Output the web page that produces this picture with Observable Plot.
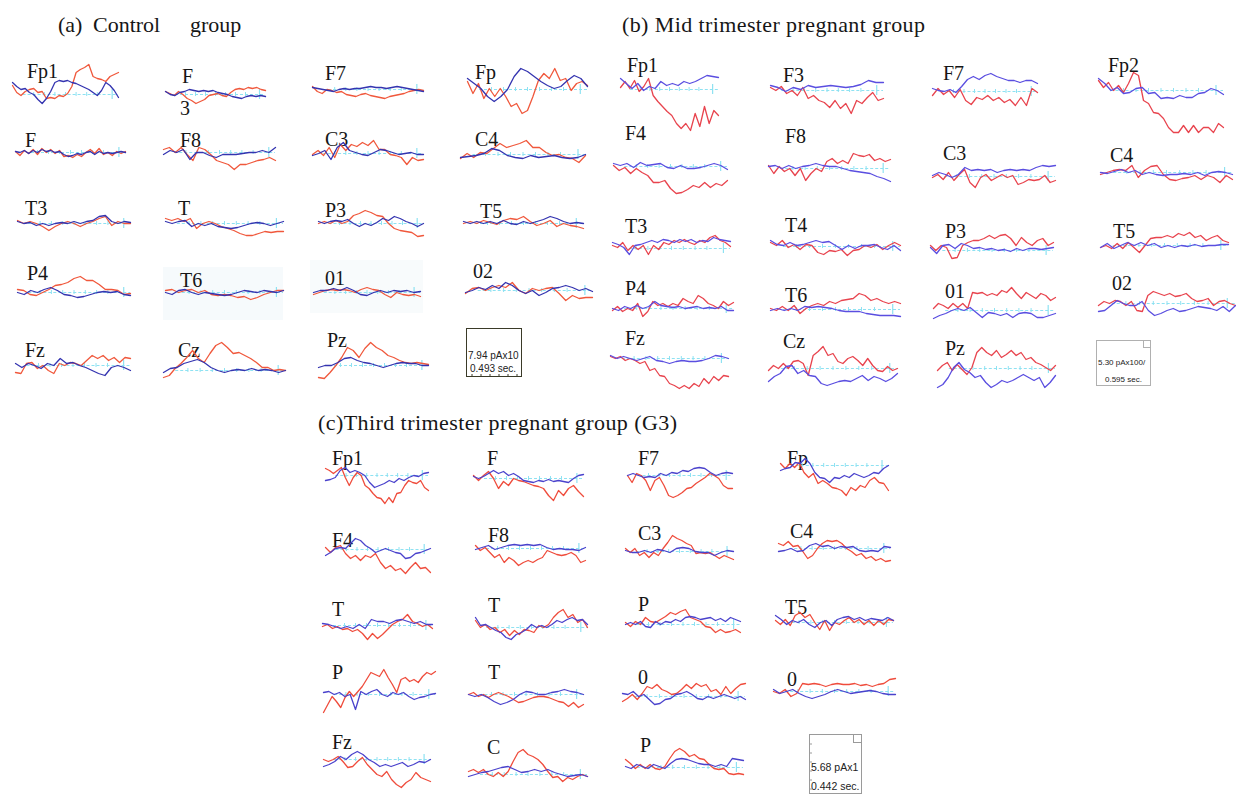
<!DOCTYPE html>
<html><head><meta charset="utf-8">
<script src="https://cdn.jsdelivr.net/npm/d3@7"></script>
<script src="https://cdn.jsdelivr.net/npm/@observablehq/plot@0.6"></script>
<style>
body{margin:0;background:#fff;}
#fig{position:relative;width:1236px;height:794px;overflow:hidden;}
#fig svg.plot, #fig > svg{position:absolute;}
</style></head>
<body><div id="fig"></div>
<script>
// ---------- amplitudes (up = positive) ----------
// (a) Control group
const a_Fp1_r=[9,2,-1,3,5,6,2,3,-4,-3,-4,-1,-2,1,8,22,25,27,30,18,16,15,13,18,20,22];
const a_Fp1_b=[12,8,5,6,2,0,-5,-9,-4,3,12,14,13,14,12,11,9,7,5,2,-1,4,12,9,4,-3];
const a_F3_r=[3,1,-1,3,0,-4,-6,-9,-7,-5,-1,0,1,-1,-2,2,5,6,5,7,6,7,5,4];
const a_F3_b=[3,0,-1,2,3,5,4,3,4,3,4,2,1,0,-2,-3,-4,-2,-1,-2,-1,-2];
const a_F7_r=[3,-2,-4,0,-1,-3,-2,-5,-6,-7,-5,-4,-6,-7,-8,-9,-7,-6,-5,-4,-2,-1,0,-1];
const a_F7_b=[2,1,0,-1,-2,0,1,0,1,1,2,3,2,2,1,2,3,2,1,0,-1,-2];
const a_Fp_r=[8,-4,6,-9,1,-7,1,-7,-17,-14,-24,-21,-7,9,16,11,21,9,11,-1,6,8,4];
const a_Fp_b=[11,6,1,-7,-12,-7,0,13,21,18,13,8,4,1,3,9,14,11,3];
const a_F_r=[1,-3,2,-1,3,-2,4,0,3,-1,2,-4,-3,-5,-2,-4,0,3,-1,4,-2,0,-3,1,-1,1];
const a_F_b=[1,0,2,-1,2,0,3,1,2,0,1,-2,-4,-3,-1,-2,0,1,-2,1,-1,0,-1,0,1,0];
const a_F8_r=[3,5,0,5,-2,-8,5,3,-2,-8,-10,-12,-17,-12,-12,-10,-8,-7,-5,-8];
const a_F8_b=[-2,2,0,3,-7,0,0,-3,-5,-2,-2,-2,-1,0,0,2,0,5];
const a_C3_r=[-1,3,-2,6,-4,9,3,9,7,11,8,13,4,4,-1,-2,-4,-11,-4,-7,-6];
const a_C3_b=[-2,0,3,-6,6,11,3,1,-1,-2,1,4,3,1,-1,0,1,-1,-1];
const a_C4_r=[-4,1,-3,2,1,6,11,7,9,11,14,7,7,2,-1,0,-3,-4,-8,-1];
const a_C4_b=[-3,-2,-1,1,6,4,-1,-3,-4,-1,-3,-2,-1,-3,-4,-3,0];
const a_T3_r=[3,0,2,0,-3,-7,-3,0,2,0,-3,0,2,5,7,-2,2,0,0];
const a_T3_b=[2,0,1,-2,0,-2,0,1,0,2,0,2,3,7,8,2,0,2,1];
const a_T_r=[5,3,5,2,5,-5,0,2,0,-3,-5,-7,-10,-12,-12,-10,-8,-9,-8,-8];
const a_T_b=[2,0,2,3,-3,0,-2,0,-3,-4,-5,-4,-2,0,1,0,-2,0,2];
const a_P3_r=[0,2,0,3,0,2,8,10,13,11,8,7,0,-5,-7,-8,-9,-13,-12];
const a_P3_b=[2,0,2,3,2,4,0,-3,0,-2,1,5,3,7,5,2,0,-3,0];
const a_T5_r=[0,2,0,3,1,-1,3,5,4,7,2,-2,0,3,-3,0,-2,-3,-5];
const a_T5_b=[2,0,2,0,2,0,3,0,-1,2,0,2,4,7,5,2,0,1,0];
const a_P4_r=[3,2,-2,-3,0,3,7,8,10,14,16,12,12,8,3,3,2,-2,-1];
const a_P4_b=[0,-2,2,0,3,5,2,-2,-3,-5,-4,-2,0,1,0,1,-2,-3];
const a_T6_r=[2,3,0,2,3,0,2,-2,-3,-2,-3,-5,-4,-7,-5,-2,0,2,2];
const a_T6_b=[0,-2,2,3,0,-2,0,-1,-2,-3,-2,0,2,1,0,2,1,0,2];
const a_O1_r=[-2,0,2,3,2,3,2,0,3,5,3,2,-2,-5,0,-2,-3,-2,-4];
const a_O1_b=[0,2,2,4,2,5,2,-2,-3,0,2,0,2,1,2,0,1];
const a_O2_r=[-3,2,3,0,3,5,3,8,0,-3,2,0,2,3,-3,-10,-5,-8,-7,-7];
const a_O2_b=[-2,0,3,1,5,2,8,5,0,-3,0,-5,-2,2,3,5,3,0,2,-1];
const a_Fz_r=[-7,-8,2,3,-3,0,-5,-8,2,0,3,2,0,5,10,7,10,5,8,3,8,7];
const a_Fz_b=[2,-2,2,0,-3,2,0,7,2,3,0,-2,-5,-8,-10,-2,0,-2,-5];
const a_Cz_r=[-7,-5,2,7,13,20,12,8,17,25,28,23,17,18,15,12,8,3,3,0,1,0];
const a_Cz_b=[-2,2,3,7,9,11,8,3,0,-2,0,1,0,2,0,1,0,-2,0];
const a_Pz_r=[-12,-13,-7,0,8,18,15,8,17,23,18,15,10,8,5,3,2,3,2,1];
const a_Pz_b=[-2,0,0,3,7,8,5,3,2,0,-2,0,2,3,2,2,0,0];
// (b) Mid trimester pregnant group
const b_Fp1_r=[2,8,1,9,-2,3,11,-6,-12,-17,-22,-26,-34,-39,-34,-41,-24,-37,-17,-34,-21,-26];
const b_Fp1_b=[11,6,1,6,-1,3,1,8,4,6,4,8,6,8,11,14,13,12];
const b_F3_r=[3,0,4,-3,0,-5,3,-8,-5,-10,-12,-17,-10,-18,-13,-23,-10,-13,-7,-2,-10,-8];
const b_F3_b=[5,3,-1,3,1,5,3,4,5,4,3,4,6,10,8,8];
const b_F7_r=[-4,3,-3,1,-6,2,-9,-13,-6,-8,-4,-9,-6,-11,-8,-14,-6,-14,3,-1];
const b_F7_b=[3,1,0,2,-1,5,12,15,12,16,18,15,13,11,11,9,11,11,8];
const b_Fp2_r=[10,3,8,0,5,-2,7,18,15,-10,-13,-22,-23,-28,-37,-42,-42,-35,-42,-35,-42,-37,-37,-42,-33,-37];
const b_Fp2_b=[12,7,0,3,-3,-2,2,3,-3,-2,-8,-7,-8,-5,-7,-7,-3,-2,2,0,-4];
const b_F4_r=[1,-4,-1,-7,-2,-6,-9,-16,-16,-14,-22,-27,-26,-23,-19,-21,-16,-21,-17,-19,-14];
const b_F4_b=[3,1,3,-1,4,1,2,3,-1,-2,1,-2,-2,-1,1,3,1,-3];
const b_F8_r=[3,-5,2,-3,0,-7,0,-12,-5,0,-3,7,10,5,8,5,15,13,12,14,8,10,7,9];
const b_F8_b=[2,3,0,3,0,2,3,5,3,2,2,0,-2,-3,-4,-5,-8,-10,-13];
const b_C3_r=[-1,2,-3,4,-4,2,7,-6,-11,-1,2,-4,-1,2,-1,1,-8,-6,-3,-4,-3,1,-6,-4];
const b_C3_b=[1,4,2,-1,2,9,6,7,6,7,4,6,7,6,7,6,9,11,10,11];
const b_C4_r=[-2,0,2,3,2,7,-5,2,6,7,-2,-7,-8,-6,-5,-3,-7,-3,-5,-10,-3,-7];
const b_C4_b=[0,-1,1,3,0,2,-2,0,-2,-3,-2,-2,-1,-2,0,-3,0,1,0,-2];
const b_T3_r=[3,1,6,-2,3,-1,3,-6,3,-1,6,4,8,6,9,6,4,8,6,11,13,8,6,2];
const b_T3_b=[6,4,1,-6,3,4,6,8,6,9,8,6,9,7,9,6,8,7,11,9,8,7];
const b_T4_r=[4,1,6,-1,2,-3,2,1,-6,-8,-4,-5,-3,-9,-4,-3,1,-1,2,-3,1,4,1];
const b_T4_b=[6,2,1,4,1,2,4,6,4,5,1,-3,1,-2,1,1,2,-1,-3,1,-4];
const b_P3_r=[5,0,5,3,-8,-7,5,8,10,10,12,15,12,15,16,12,5,13,8,5,10,12,5,8];
const b_P3_b=[3,-3,5,6,2,7,5,2,3,1,2,0,1,-1,2,0,2,2,1,2,3];
const b_T5_r=[-2,0,-3,2,-3,3,-2,-7,0,7,8,8,10,8,12,10,13,8,10,5,8,10,5,3];
const b_T5_b=[-2,2,-3,0,3,0,3,0,2,-2,0,-2,0,-1,1,-1,0,0,1,1];
const b_P4_r=[-2,2,-3,0,-2,5,-8,-3,7,3,5,2,5,3,10,7,5,13,10,5,3,0,7,3,6];
const b_P4_b=[0,-2,2,0,3,0,2,7,3,2,1,2,0,1,2,0,1,0,2,-2,-2];
const b_T6_r=[1,-1,3,-1,4,-4,1,4,6,4,8,6,9,10,11,16,14,9,11,8,6,8,6];
const b_T6_b=[-1,1,-1,1,-1,3,2,3,2,1,-1,-2,-2,-2,-4,-5,-6,-6,-6,-7];
const b_O1_r=[2,7,5,2,7,3,7,2,18,17,18,15,17,15,20,18,23,17,12,18,15,12,17,15,10,13];
const b_O1_b=[-8,-5,-3,0,2,0,3,-2,-7,-2,-3,-5,-3,-7,-3,-2,-3,-7,-7,-5,-3];
const b_O2_r=[-2,2,0,3,2,-2,2,-7,-8,8,12,10,8,10,7,8,10,5,2,3,5,-2,2,3,0,-2];
const b_O2_b=[-8,-7,-2,3,0,-2,-2,2,-7,-12,-10,-7,-5,-8,-7,-5,-3,-4,-5,-7,-3,-8,-2];
const b_Fz_r=[2,0,2,-2,0,-2,-5,-3,-12,-10,-17,-18,-25,-27,-30,-27,-30,-25,-28,-20,-25,-18,-22,-17,-18];
const b_Fz_b=[3,0,2,0,-2,0,2,-2,-3,-5,-3,-2,-3,-3,-2,0,3,2,0];
const b_Cz_r=[-2,3,0,5,0,7,8,5,-7,13,17,22,13,15,7,5,10,12,8,3,10,3,-2,-3,2,-2,0];
const b_Cz_b=[-13,-8,-5,2,3,-5,-2,-7,-8,-15,-17,-15,-13,-12,-13,-10,-7,-12,-8,-10,-13,-10,-5];
const b_Pz_r=[-2,3,6,-2,4,-1,-6,1,16,21,16,13,18,11,14,18,13,16,9,11,6,4,1,-2,3];
const b_Pz_b=[-19,-16,-9,1,6,-1,-4,-9,-7,-14,-19,-16,-12,-14,-12,-9,-6,-9,-12,-9,-19,-14,-7];
// (c) Third trimester pregnant group (G3)
const c_Fp1_r=[7,5,2,5,8,-2,-10,-2,3,0,-10,-13,-18,-22,-23,-28,-22,-27,-18,-17,-10,-5,-7,-8,-5,-12,-15];
const c_Fp1_b=[-5,-4,-2,5,8,3,5,3,0,-7,-12,-10,-8,-5,-7,-3,-5,-2,0,-1,2,3];
const c_F_r=[3,-2,3,7,0,-10,-3,-7,0,-2,-3,-5,-7,-8,-10,-17,-22,-12,-17,-10,-7,-13,-18];
const c_F_b=[2,0,2,5,8,5,7,3,5,2,-2,-3,-4,-2,-3,-1,-3,-2,-3,-4,0,3,4];
const c_F7_r=[0,-7,2,0,-5,-15,-5,-2,-10,-20,-22,-20,-17,-13,-12,-8,-5,-2,2,0,-3,-10,-13,-13];
const c_F7_b=[0,2,0,-2,-1,-2,2,0,3,2,5,4,7,8,7,3,0,2,3,2];
const c_Fp_r=[2,-3,2,-2,3,-7,-12,-8,-18,-15,-18,-22,-23,-25,-30,-22,-25,-20,-22,-15,-12,-17,-18,-25];
const c_Fp_b=[-5,-3,-2,3,2,7,2,-7,-12,-13,-17,-12,-13,-10,-12,-8,-10,-12,-10,-7,-8,-3,0];
const c_F4_r=[2,-3,2,4,-4,-9,-6,-11,-6,-8,-4,-13,-19,-16,-21,-19,-24,-18,-13,-19,-18,-23];
const c_F4_b=[-6,-3,1,2,1,6,11,9,4,1,-3,-1,1,-1,-3,-4,-9,-8,-4,-3,-1,1];
const c_F8_r=[3,-2,1,-4,-9,-6,-14,-9,-12,-17,-14,-12,-14,-11,-9,-2,-4,-6,-7,-6,-4,-7,-14,-12];
const c_F8_b=[-1,1,3,-1,1,3,4,3,4,3,4,1,-1,0,-1,-1,-2,1];
const c_C3_r=[3,-1,3,-4,-1,-6,-1,-4,3,9,16,13,11,8,6,-2,-1,-2,-1,-4,-7,-4,-6,-8];
const c_C3_b=[1,-1,-1,1,-1,2,1,-1,3,4,3,0,-1,-1,-4,-1,1,0];
const c_C4_r=[5,3,7,2,3,-3,-10,-7,0,5,8,7,8,5,0,-3,-7,-5,-10,-8,-12,-10,-13,-12];
const c_C4_b=[-3,-2,0,-3,-2,3,5,2,3,0,2,1,2,-2,-3,-2,-3,2,1];
const c_T1_r=[-1,1,-3,-1,-4,-3,-6,-4,-8,-14,-8,-13,-9,-4,1,4,6,11,4,2,-1,1,-3];
const c_T1_b=[2,1,-1,-3,-1,-3,1,-3,6,4,4,2,5,6,4,2,4,1,1];
const c_T2_r=[7,0,3,-2,0,-5,-2,-8,-3,-7,-2,-3,-5,2,0,3,10,15,18,10,13,5,8,0];
const c_T2_b=[10,2,3,0,-3,-5,-10,-12,-7,-5,-2,3,0,2,0,3,7,5,8,10,7,8,3];
const c_P1_r=[2,-2,3,0,7,3,2,5,8,12,10,13,15,7,5,3,-2,-3,-8,-5,-8,-7,-5,-8];
const c_P1_b=[0,2,0,3,-2,-3,3,0,3,2,5,3,7,8,7,5,6,7,4,6,3,7,5,3];
const c_T5_r=[2,-2,3,-3,7,10,5,8,0,-7,2,-8,0,-2,2,5,0,3,-2,2,-3,2,-2,3,2];
const c_T5_b=[7,3,-2,2,0,3,-2,-5,0,2,-3,3,5,6,3,5,2,4,3,2,5,2];
const c_P2_r=[-18,-10,-2,-7,-13,-3,3,-2,3,8,15,22,20,18,25,17,10,2,15,17,13,15,12,18,22,20,23];
const c_P2_b=[2,3,0,2,-2,0,-15,3,0,3,5,0,-2,2,0,2,-2,-5,-3,-2,0,1];
const c_T3_r=[0,2,-2,0,-3,0,2,0,-2,-5,-8,-7,-5,-3,-2,-2,-3,-5,-7,-8,-12,-8,-13,-10];
const c_T3_b=[0,-2,0,-3,-7,-10,-8,-5,0,3,2,0,0,2,3,5,3,2,0];
const c_O1_r=[-5,-2,2,-3,3,10,8,12,7,5,2,3,7,12,8,13,10,12,5,7,2,10,3,8,12,13];
const c_O1_b=[3,2,5,0,2,-3,-8,-7,-3,-2,2,3,5,2,-2,-3,0,-2,0,2,0,-2,0,-3];
const c_O2_r=[0,-2,2,-5,-2,8,7,8,7,5,7,8,7,7,8,6,7,5,7,8,12,13];
const c_O2_b=[2,-2,0,2,-2,-5,-7,-5,-3,0,2,0,-2,-1,0,1,0,-2,-3,-3];
const c_Fz_r=[0,-2,0,3,-2,-8,-7,-2,2,-5,-10,-15,-17,-12,-20,-25,-28,-23,-20,-13,-18,-20,-22];
const c_Fz_b=[-7,-5,-2,3,0,5,8,5,0,-3,-7,-5,-7,-5,-3,-7,-5,-2,-3,0];
const c_C_r=[3,5,2,5,0,-2,2,-2,3,13,22,25,20,18,15,10,3,-3,-2,-7,-3,-5,-2,0,-2];
const c_C_b=[-2,0,2,3,5,7,8,5,2,3,5,3,5,2,0,-2,-1,0,-2];
const c_P3_r=[8,4,-1,3,-1,3,-1,-2,1,9,16,19,16,11,13,9,8,3,-1,-2,-1,-6,-7,-6,-7];
const c_P3_b=[1,-1,3,1,-1,3,1,-1,4,8,9,8,6,4,3,3,1,3,1,9,8,7];

// calibration box texts
const boxA = ["7.94 pAx10","0.493 sec."];
const boxB = ["5.30 pAx100/","0.595 sec."];
const boxC = ["5.68 pAx1","0.442 sec."];

// ---------- layout (group, label, label x, label baseline, trace x0, x1, trace baseline, red, blue) ----------
const panels = [
 ["a","Fp1",27,78,12,118,94,a_Fp1_r,a_Fp1_b],
 ["a","F",182,83,165,265,94,a_F3_r,a_F3_b],
 ["a","F7",325,80,312,423,89,a_F7_r,a_F7_b],
 ["a","Fp",475,79,467,587,89,a_Fp_r,a_Fp_b],
 ["a","F",25,147,15,125,152,a_F_r,a_F_b],
 ["a","F8",180,147,163,275,152,a_F8_r,a_F8_b],
 ["a","C3",325,146,312,423,153,a_C3_r,a_C3_b],
 ["a","C4",475,146,460,585,154,a_C4_r,a_C4_b],
 ["a","T3",25,215,17,130,223,a_T3_r,a_T3_b],
 ["a","T",178,215,165,283,223,a_T_r,a_T_b],
 ["a","P3",325,217,318,423,223,a_P3_r,a_P3_b],
 ["a","T5",480,218,463,583,223,a_T5_r,a_T5_b],
 ["a","P4",27,280,17,130,292,a_P4_r,a_P4_b],
 ["a","T6",180,287,165,283,292,a_T6_r,a_T6_b],
 ["a","01",325,285,313,420,292,a_O1_r,a_O1_b],
 ["a","02",473,278,465,592,290,a_O2_r,a_O2_b],
 ["a","Fz",25,357,15,130,365,a_Fz_r,a_Fz_b],
 ["a","Cz",178,357,163,285,370,a_Cz_r,a_Cz_b],
 ["a","Pz",327,347,318,428,365,a_Pz_r,a_Pz_b],

 ["b","Fp1",627,72,620,718,89,b_Fp1_r,b_Fp1_b],
 ["b","F3",783,82,770,883,90,b_F3_r,b_F3_b],
 ["b","F7",943,80,932,1037,91,b_F7_r,b_F7_b],
 ["b","Fp2",1108,72,1098,1223,90,b_Fp2_r,b_Fp2_b],
 ["b","F4",625,140,613,727,166,b_F4_r,b_F4_b],
 ["b","F8",785,143,768,890,168,b_F8_r,b_F8_b],
 ["b","C3",943,160,932,1055,176,b_C3_r,b_C3_b],
 ["b","C4",1110,162,1100,1232,172,b_C4_r,b_C4_b],
 ["b","T3",625,233,612,730,248,b_T3_r,b_T3_b],
 ["b","T4",785,232,770,900,246,b_T4_r,b_T4_b],
 ["b","P3",945,238,930,1053,250,b_P3_r,b_P3_b],
 ["b","T5",1113,238,1100,1228,245,b_T5_r,b_T5_b],
 ["b","P4",625,295,612,733,308,b_P4_r,b_P4_b],
 ["b","T6",785,302,770,900,309,b_T6_r,b_T6_b],
 ["b","01",945,298,933,1055,310,b_O1_r,b_O1_b],
 ["b","02",1112,290,1098,1235,303,b_O2_r,b_O2_b],
 ["b","Fz",625,345,610,728,358,b_Fz_r,b_Fz_b],
 ["b","Cz",783,348,768,897,368,b_Cz_r,b_Cz_b],
 ["b","Pz",945,355,937,1055,368,b_Pz_r,b_Pz_b],

 ["c","Fp1",332,465,325,428,475,c_Fp1_r,c_Fp1_b],
 ["c","F",487,465,473,583,478,c_F_r,c_F_b],
 ["c","F7",638,465,627,732,475,c_F7_r,c_F7_b],
 ["c","Fp",787,465,780,888,465,c_Fp_r,c_Fp_b],
 ["c","F4",332,547,325,430,549,c_F4_r,c_F4_b],
 ["c","F8",488,542,475,585,548,c_F8_r,c_F8_b],
 ["c","C3",638,540,625,733,551,c_C3_r,c_C3_b],
 ["c","C4",790,538,778,890,548,c_C4_r,c_C4_b],
 ["c","T",332,616,322,432,625,c_T1_r,c_T1_b],
 ["c","T",488,612,475,587,627,c_T2_r,c_T2_b],
 ["c","P",638,611,625,740,624,c_P1_r,c_P1_b],
 ["c","T5",785,614,775,893,622,c_T5_r,c_T5_b],
 ["c","P",332,679,323,435,694,c_P2_r,c_P2_b],
 ["c","T",488,679,468,583,694,c_T3_r,c_T3_b],
 ["c","0",638,684,622,745,696,c_O1_r,c_O1_b],
 ["c","0",787,686,773,895,691,c_O2_r,c_O2_b],
 ["c","Fz",332,749,323,430,759,c_Fz_r,c_Fz_b],
 ["c","C",487,754,468,587,774,c_C_r,c_C_b],
 ["c","P",640,752,625,743,767,c_P3_r,c_P3_b]
];

const colors = {
  a:{red:"#f0583c", blue:"#3434b0"},
  b:{red:"#e8444e", blue:"#5a4ee0"},
  c:{red:"#ef4c3c", blue:"#4a42cc"}
};
const cyan = "#8ee2f2";
const SERIF = "'Liberation Serif','DejaVu Serif',serif";
const SANS = "'Liberation Sans',Arial,sans-serif";

const fig = d3.select("#fig");

// ---------- background overlay: titles, labels, calibration boxes ----------
const ov = fig.append("svg").attr("width",1236).attr("height",794).style("left","0px").style("top","0px");
ov.append("rect").attr("x",163).attr("y",267).attr("width",120).attr("height",53).attr("fill","#f6fafc");
ov.append("rect").attr("x",310).attr("y",260).attr("width",113).attr("height",53).attr("fill","#f8fbfc");

function txt(s,x,y,size,opts={}){
  const t = ov.append("text").attr("x",x).attr("y",y).attr("font-family",opts.family||SERIF)
    .attr("font-size",size).attr("fill",opts.fill||"#161616").style("white-space","pre").text(s);
  if(opts.len){t.attr("textLength",opts.len).attr("lengthAdjust",opts.adj||"spacing");}
  return t;
}
// titles
txt("(a)",58,32,22); txt("Control",93,32,22); txt("group",190,32,22);
txt("(b) Mid trimester pregnant group",622,32,22,{len:303});
txt("(c)Third trimester pregnant group (G3)",318,430,22,{len:359});
// channel labels
panels.forEach(p=>txt(p[1],p[2],p[3],20));
txt("3",180,115,20);

// calibration boxes
function calBox(x,y,w,h,stroke,lines,fs,sq){
  const g = ov.append("g").attr("transform",`translate(${x},${y})`);
  g.append("rect").attr("x",0.5).attr("y",0.5).attr("width",w-1).attr("height",h-1).attr("fill","#fff").attr("stroke",stroke);
  g.append("rect").attr("x",w-sq-0.5).attr("y",0.5).attr("width",sq).attr("height",sq).attr("fill","none").attr("stroke",stroke);
  lines.forEach(l=>{
    g.append("text").attr("x",l.x).attr("y",l.y).attr("font-family",SANS).attr("font-size",l.fs||fs)
      .attr("fill","#222").text(l.s);
  });
  return g;
}
const ga = calBox(466,328,56,49,"#3a3a28",[{s:boxA[0],x:2,y:31},{s:boxA[1],x:4,y:44}],10);
d3.range(6).forEach(i=>ga.append("line").attr("x1",6+i*9).attr("x2",6+i*9).attr("y1",46).attr("y2",48).attr("stroke","#3a3a28"));
calBox(1096,340,55,46,"#b0b0b0",[{s:boxB[0],x:2,y:25,fs:8},{s:boxB[1],x:9,y:42,fs:8}],8,7);
const gc = calBox(809,734,53,60,"#9a9a9a",[{s:boxC[0],x:2,y:37},{s:boxC[1],x:2,y:56}],10.5,8);
d3.range(6).forEach(i=>gc.append("line").attr("x1",0).attr("x2",3).attr("y1",10+i*9).attr("y2",10+i*9).attr("stroke","#9a9a9a"));

// ---------- traces with Observable Plot ----------
const H = 120;
const tickFr = [0.2,0.3,0.4,0.5,0.6,0.7,0.8];
panels.forEach(p=>{
  const [g,lab,lx,ly,x0,x1,base,red,blue] = p;
  const pts = arr => arr.map((v,i)=>({t:i/(arr.length-1), v}));
  const col = colors[g];
  const svg = Plot.plot({
    width: x1-x0, height: H, margin: 0,
    x:{domain:[0,1], axis:null},
    y:{domain:[-H/2,H/2], axis:null},
    style:{background:"transparent", overflow:"visible"},
    marks:[
      Plot.ruleY([0],{x1:0.1,x2:1,stroke:cyan,strokeWidth:1.2,strokeDasharray:"3,2"}),
      Plot.ruleX(tickFr,{y1:-2,y2:2,stroke:cyan}),
      Plot.ruleX([0.94],{y1:-5,y2:5,stroke:cyan,strokeWidth:1.2}),
      Plot.line(pts(red),{x:"t",y:"v",stroke:col.red,strokeWidth:1.3}),
      Plot.line(pts(blue),{x:"t",y:"v",stroke:col.blue,strokeWidth:1.3})
    ]
  });
  svg.style.position="absolute";
  svg.style.left = x0+"px";
  svg.style.top = (base-H/2)+"px";
  document.getElementById("fig").appendChild(svg);
});
</script>
</body></html>
